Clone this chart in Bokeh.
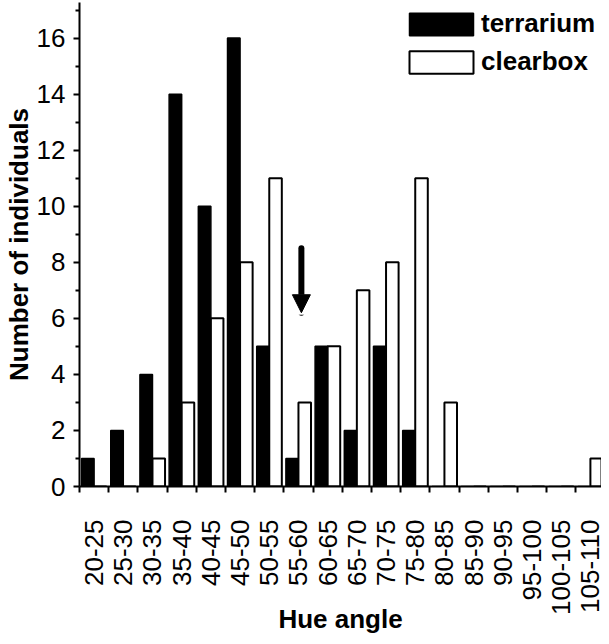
import math
import numpy as np
from bokeh.plotting import figure
from bokeh.models import (Range1d, FixedTicker, Legend, LegendItem, Arrow,
                          NormalHead, ColumnDataSource)
from bokeh.embed import file_html
from bokeh.resources import INLINE

# ---- data ----
categories = ["20-25", "25-30", "30-35", "35-40", "40-45", "45-50", "50-55",
              "55-60", "60-65", "65-70", "70-75", "75-80", "80-85", "85-90",
              "90-95", "95-100", "100-105", "105-110"]
terrarium = [1, 2, 4, 14, 10, 16, 5, 1, 5, 2, 5, 2, 0, 0, 0, 0, 0, 0]
clearbox = [0, 0, 1, 3, 6, 8, 11, 3, 5, 7, 8, 11, 3, 0, 0, 0, 0, 1]
y_ticks = [0, 2, 4, 6, 8, 10, 12, 14, 16]
y_minor = [1, 3, 5, 7, 9, 11, 13, 15, 17]
series_names = ["terrarium", "clearbox"]
x_title = "Hue angle"
y_title = "Number of individuals"

# arrow marking the overall mean hue angle
arrow_hue = 58.0
arrow_top = 8.5
arrow_tip = 6.2
bin_start = 20.0
bin_width = 5.0

FONT = "Liberation Sans"

idx = np.arange(len(categories))
bar_w = 0.43
src = ColumnDataSource(dict(
    x_t=idx + 0.5 - bar_w / 2,
    x_c=idx + 0.5 + bar_w / 2,
    terrarium=terrarium,
    clearbox=clearbox,
))

p = figure(width=601, height=636, output_backend="svg", toolbar_location=None,
           x_range=Range1d(0, 17.88), y_range=Range1d(0, 17.27),
           min_border_left=74, min_border_right=0, min_border_top=2,
           min_border_bottom=150, outline_line_color=None,
           background_fill_color="white", border_fill_color="white")
p.xgrid.visible = False
p.ygrid.visible = False

r_t = p.vbar(x="x_t", top="terrarium", width=bar_w, bottom=0, source=src,
             fill_color="black", line_color="black", line_width=1.5)
r_c = p.vbar(x="x_c", top="clearbox", width=bar_w, bottom=0, source=src,
             fill_color="white", line_color="black", line_width=2)

# x axis: ticks at bin boundaries, labels at bin centres
xa = p.xaxis[0]
xa.ticker = FixedTicker(ticks=list(idx + 0.5), minor_ticks=list(range(len(categories) + 1)))
xa.major_label_overrides = {float(i + 0.5): c for i, c in enumerate(categories)}
xa.major_tick_line_color = None
xa.major_tick_out = 6
xa.major_tick_in = 0
xa.minor_tick_out = 6
xa.minor_tick_in = 0
xa.minor_tick_line_width = 2
xa.minor_tick_line_color = "black"
xa.axis_line_width = 2
xa.axis_line_color = "black"
xa.major_label_orientation = math.pi / 2
xa.major_label_standoff = 27
xa.major_label_text_font = FONT
xa.major_label_text_font_size = "26px"
xa.major_label_text_color = "black"
xa.axis_label = x_title
xa.axis_label_text_font = FONT
xa.axis_label_text_font_style = "bold"
xa.axis_label_text_font_size = "26px"
xa.axis_label_text_color = "black"
xa.axis_label_text_line_height = 1.0
xa.axis_label_standoff = -14

ya = p.yaxis[0]
ya.ticker = FixedTicker(ticks=y_ticks, minor_ticks=y_minor)
ya.major_tick_out = 6
ya.major_tick_in = 0
ya.minor_tick_out = 4
ya.minor_tick_in = 0
ya.major_tick_line_width = 2
ya.minor_tick_line_width = 2
ya.major_tick_line_color = "black"
ya.minor_tick_line_color = "black"
ya.axis_line_width = 2
ya.axis_line_color = "black"
ya.major_label_standoff = 8
ya.major_label_text_font = FONT
ya.major_label_text_font_size = "26px"
ya.major_label_text_color = "black"
ya.axis_label = y_title
ya.axis_label_text_font = FONT
ya.axis_label_text_font_style = "bold"
ya.axis_label_text_font_size = "26px"
ya.axis_label_text_color = "black"
ya.axis_label_standoff = 0

# arrow
ax = (arrow_hue - bin_start) / bin_width
p.add_layout(Arrow(end=NormalHead(size=18, fill_color="black", line_color="black", line_width=1),
                   x_start=ax, y_start=arrow_top, x_end=ax, y_end=arrow_tip,
                   line_width=6, line_color="black", line_cap="round"))

legend = Legend(items=[LegendItem(label=series_names[0], renderers=[r_t]),
                       LegendItem(label=series_names[1], renderers=[r_c])],
                location=(322, 409), glyph_width=80, glyph_height=28,
                label_height=22, label_standoff=-3, spacing=7, padding=0,
                margin=0, border_line_color=None, background_fill_alpha=0,
                label_text_font=FONT, label_text_font_style="bold",
                label_text_font_size="26px", label_text_color="black")
p.add_layout(legend)

open("out.html", "w").write(file_html(p, INLINE))
